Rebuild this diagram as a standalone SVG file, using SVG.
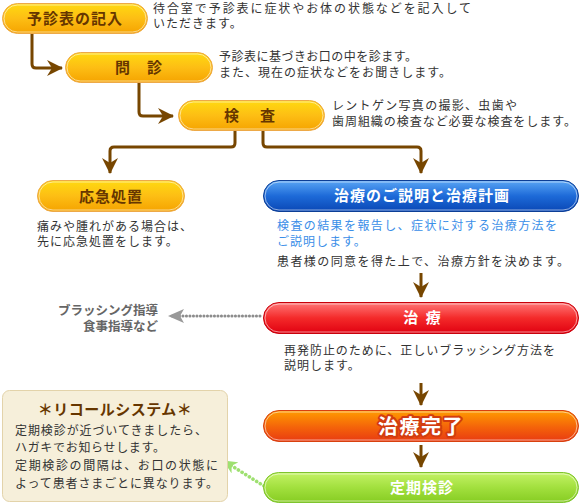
<svg xmlns="http://www.w3.org/2000/svg" width="580" height="504" viewBox="0 0 580 504">
<style>
  text { font-family: "Noto Sans CJK JP", "Noto Sans", sans-serif; }
  .d { font-size: 12px; fill: #333; letter-spacing: 1px; }
  .b { font-size: 12px; fill: #3a8ee8; letter-spacing: 1px; }
  .lb { font-size: 15px; font-weight: bold; fill: #663600; text-anchor: middle; letter-spacing: 1px; }
  .lw { font-size: 15px; font-weight: bold; fill: #fff; text-anchor: middle; letter-spacing: 1px; }
  .g { font-size: 12.5px; font-weight: bold; fill: #666; text-anchor: end; }
  .conn { fill: none; stroke: #774600; stroke-width: 3; }
  .pillY { fill: url(#gY); stroke: #EDA947; stroke-width: 1; }
  .inner { fill: none; stroke: #fff; stroke-opacity: 0.55; stroke-width: 1; }
</style>
<defs>
  <linearGradient id="gY" x1="0" y1="0" x2="0" y2="1">
    <stop offset="0" stop-color="#FFDA10"/>
    <stop offset="0.5" stop-color="#FDBE14"/>
    <stop offset="1" stop-color="#F5A300"/>
  </linearGradient>
  <linearGradient id="gB" x1="0" y1="0" x2="0" y2="1">
    <stop offset="0" stop-color="#5AA6F5"/>
    <stop offset="0.5" stop-color="#1D6AD8"/>
    <stop offset="1" stop-color="#0A47B5"/>
  </linearGradient>
  <linearGradient id="gR" x1="0" y1="0" x2="0" y2="1">
    <stop offset="0" stop-color="#FF7878"/>
    <stop offset="0.5" stop-color="#F42A2A"/>
    <stop offset="1" stop-color="#E00010"/>
  </linearGradient>
  <linearGradient id="gO" x1="0" y1="0" x2="0" y2="1">
    <stop offset="0" stop-color="#FF9C00"/>
    <stop offset="0.55" stop-color="#F4620A"/>
    <stop offset="1" stop-color="#E83A12"/>
  </linearGradient>
  <linearGradient id="gG" x1="0" y1="0" x2="0" y2="1">
    <stop offset="0" stop-color="#C4F266"/>
    <stop offset="0.5" stop-color="#A2E03E"/>
    <stop offset="1" stop-color="#86CC22"/>
  </linearGradient>
  <marker id="ah" markerUnits="userSpaceOnUse" viewBox="0 0 16 16" markerWidth="16" markerHeight="16" refX="15" refY="8" orient="auto">
    <path d="M0,0 L16,8 L0,16 L5,8 Z" fill="#774600"/>
  </marker>
  <marker id="ahGrey" markerUnits="userSpaceOnUse" viewBox="0 0 16 14" markerWidth="16" markerHeight="14" refX="15" refY="7" orient="auto">
    <path d="M0,0 L16,7 L0,14 L4,7 Z" fill="#999"/>
  </marker>
  <marker id="ahGreen" markerUnits="userSpaceOnUse" viewBox="0 0 14 13" markerWidth="14" markerHeight="13" refX="13" refY="6.5" orient="auto">
    <path d="M0,0 L14,6.5 L0,13 L4,6.5 Z" fill="#9EE070"/>
  </marker>
</defs>

<g id="connectors">
  <path class="conn" d="M32,34 V64 Q32,68 36,68 H62" marker-end="url(#ah)"/>
  <path class="conn" d="M139,83 V112 Q139,116 143,116 H173" marker-end="url(#ah)"/>
  <path class="conn" d="M235,131 V143 Q235,147 231,147 H114 Q110,147 110,151 V173" marker-end="url(#ah)"/>
  <path class="conn" d="M263,131 V143 Q263,147 267,147 H417 Q421,147 421,151 V173" marker-end="url(#ah)"/>
  <path class="conn" d="M421,273 V297" marker-end="url(#ah)"/>
  <path class="conn" d="M421,383 V405" marker-end="url(#ah)"/>
  <path class="conn" d="M421,445 V467" marker-end="url(#ah)"/>
  <path d="M260,316 H169" fill="none" stroke="#8C8C8C" stroke-width="3" stroke-linecap="round" stroke-dasharray="0.1 3.4" marker-end="url(#ahGrey)"/>
  <path d="M264,486 L224,461" fill="none" stroke="#9EE070" stroke-width="3.6" stroke-linecap="round" stroke-dasharray="0.1 4.2" marker-end="url(#ahGreen)"/>
</g>

<g id="node-yoshinhyo">
  <rect class="pillY" x="2.5" y="3.5" width="145" height="30" rx="15"/>
  <rect class="inner" x="4" y="5" width="142" height="27" rx="13.5"/>
  <text class="lb" x="75" y="24">予診表の記入</text>
  <text class="d" x="153" y="13" textLength="319">待合室で予診表に症状やお体の状態などを記入して</text>
  <text class="d" x="153" y="28">いただきます。</text>
</g>

<g id="node-monshin">
  <rect class="pillY" x="65.5" y="52.5" width="147" height="30" rx="15"/>
  <rect class="inner" x="67" y="54" width="144" height="27" rx="13.5"/>
  <text class="lb" x="139" y="73">問　診</text>
  <text class="d" x="219" y="61" textLength="199">予診表に基づきお口の中を診ます。</text>
  <text class="d" x="219" y="77" textLength="233">また、現在の症状などをお聞きします。</text>
</g>

<g id="node-kensa">
  <rect class="pillY" x="178.5" y="100.5" width="146" height="30" rx="15"/>
  <rect class="inner" x="180" y="102" width="143" height="27" rx="13.5"/>
  <text class="lb" x="251" y="121" style="letter-spacing:3px">検　査</text>
  <text class="d" x="332" y="110" textLength="186">レントゲン写真の撮影、虫歯や</text>
  <text class="d" x="332" y="126" textLength="245">歯周組織の検査など必要な検査をします。</text>
</g>

<g id="node-oukyu">
  <rect class="pillY" x="37.5" y="180.5" width="147" height="31" rx="15.5"/>
  <rect class="inner" x="39" y="182" width="144" height="28" rx="14"/>
  <text class="lb" x="111" y="202">応急処置</text>
  <text class="d" x="37" y="231">痛みや腫れがある場合は、</text>
  <text class="d" x="37" y="246">先に応急処置をします。</text>
</g>

<g id="node-setsumei">
  <rect x="263.5" y="180.5" width="315" height="31" rx="15.5" fill="url(#gB)" stroke="#0C3E96"/>
  <rect class="inner" x="265" y="182" width="312" height="28" rx="14" stroke-opacity="0.35"/>
  <text class="lw" x="422" y="201">治療のご説明と治療計画</text>
  <text class="b" x="277" y="230" textLength="281">検査の結果を報告し、症状に対する治療方法を</text>
  <text class="b" x="277" y="246">ご説明します。</text>
  <text class="d" x="277" y="266" textLength="293">患者様の同意を得た上で、治療方針を決めます。</text>
</g>

<g id="node-chiryo">
  <rect x="263.5" y="302.5" width="315" height="31" rx="15.5" fill="url(#gR)" stroke="#C8000A"/>
  <rect class="inner" x="265" y="304" width="312" height="28" rx="14" stroke-opacity="0.45"/>
  <text class="lw" x="423" y="323" style="letter-spacing:2px">治 療</text>
  <text class="g" x="158" y="315">ブラッシング指導</text>
  <text class="g" x="158" y="331">食事指導など</text>
  <text class="d" x="284" y="355" textLength="272">再発防止のために、正しいブラッシング方法を</text>
  <text class="d" x="284" y="370">説明します。</text>
</g>

<g id="node-kanryo">
  <rect x="263.5" y="410.5" width="315" height="31" rx="15.5" fill="url(#gO)" stroke="#D8400E"/>
  <rect class="inner" x="265" y="412" width="312" height="28" rx="14" stroke-opacity="0.4"/>
  <text x="421" y="434" text-anchor="middle" font-size="20" font-weight="bold" fill="#fff" stroke="#D23C10" stroke-width="4" stroke-linejoin="round" paint-order="stroke" letter-spacing="1.5">治療完了</text>
</g>

<g id="node-teiki">
  <rect x="263.5" y="472.5" width="315" height="30" rx="15" fill="url(#gG)" stroke="#7EC42E"/>
  <rect class="inner" x="265" y="474" width="312" height="27" rx="13.5" stroke-opacity="0.5"/>
  <text class="lw" x="422" y="493">定期検診</text>
</g>

<g id="recall">
  <rect x="2.5" y="390.5" width="225" height="111" rx="7" fill="#F6EFDA" stroke="#E3D3AA"/>
  <text x="115" y="415" text-anchor="middle" font-size="15" font-weight="bold" fill="#663600" letter-spacing="0.5">＊リコールシステム＊</text>
  <text class="d" x="15" y="435" textLength="193">定期検診が近づいてきましたら、</text>
  <text class="d" x="15" y="452" textLength="151">ハガキでお知らせします。</text>
  <text class="d" x="15" y="470" textLength="204">定期検診の間隔は、お口の状態に</text>
  <text class="d" x="15" y="488" textLength="204">よって患者さまごとに異なります。</text>
</g>
</svg>
